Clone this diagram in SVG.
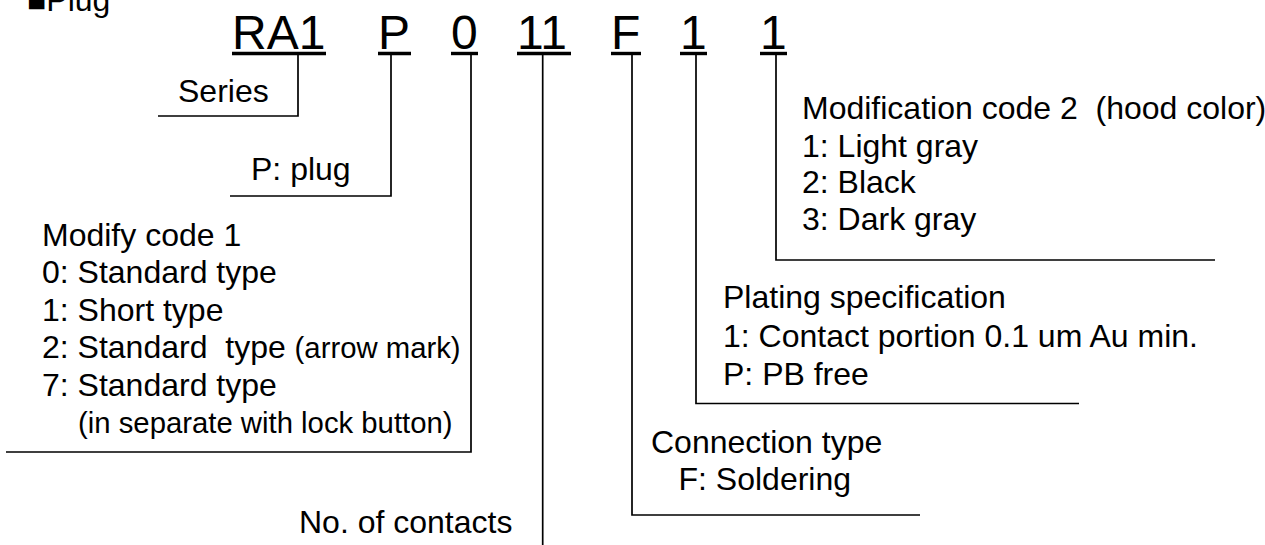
<svg xmlns="http://www.w3.org/2000/svg" width="1265" height="545" viewBox="0 0 1265 545" xml:space="preserve">
<style>
text{font-family:"Liberation Sans",Arial,sans-serif;fill:#000;font-size:32px;white-space:pre}
.code{font-size:48px}
.sm{font-size:29.3px}
.ul{stroke:#000;stroke-width:3.4;fill:none}
.ln{stroke:#000;stroke-width:1.7;fill:none}
</style>
<rect width="1265" height="545" fill="#fff"/>
<text x="27" y="11">■Plug</text>
<g id="code">
<text class="code" x="232" y="48.5">RA1</text>
<text class="code" x="378" y="48.5">P</text>
<text class="code" x="451" y="48.5">0</text>
<text class="code" x="517" y="48.5">11</text>
<text class="code" x="611" y="48.5">F</text>
<text class="code" x="680" y="48.5">1</text>
<text class="code" x="760" y="48.5">1</text>
<line class="ul" x1="232" y1="53.5" x2="326" y2="53.5"/>
<line class="ul" x1="378" y1="53.5" x2="411" y2="53.5"/>
<line class="ul" x1="451" y1="53.5" x2="478" y2="53.5"/>
<line class="ul" x1="517" y1="53.5" x2="571" y2="53.5"/>
<line class="ul" x1="611" y1="53.5" x2="641" y2="53.5"/>
<line class="ul" x1="680" y1="53.5" x2="707" y2="53.5"/>
<line class="ul" x1="760" y1="53.5" x2="787" y2="53.5"/>
</g>
<g id="connectors">
<polyline class="ln" points="298,53 298,116 158,116"/>
<polyline class="ln" points="391,53 391,196 230,196"/>
<polyline class="ln" points="471,53 471,452 6,452"/>
<line class="ln" x1="542.7" y1="53" x2="542.7" y2="545"/>
<polyline class="ln" points="632,53 632,515 920,515"/>
<polyline class="ln" points="696,53 696,403.5 1079,403.5"/>
<polyline class="ln" points="776,53 776,260 1215,260"/>
</g>
<g id="series"><text x="178" y="101.7">Series</text></g>
<g id="type"><text x="251" y="180">P: plug</text></g>
<g id="modify1">
<text x="42" y="245.7">Modify code 1</text>
<text x="42" y="283.3">0: Standard type</text>
<text x="42" y="320.8">1: Short type</text>
<text x="42" y="358.3">2: Standard  type <tspan class="sm">(arrow mark)</tspan></text>
<text x="42" y="395.8">7: Standard type</text>
<text class="sm" x="78" y="433.3">(in separate with lock button)</text>
</g>
<g id="contacts"><text x="299" y="533.3">No. of contacts</text></g>
<g id="connection">
<text x="651" y="453.3">Connection type</text>
<text x="678.5" y="490">F: Soldering</text>
</g>
<g id="plating">
<text x="723" y="308.3">Plating specification</text>
<text x="723" y="346.7">1: Contact portion 0.1 um Au min.</text>
<text x="723" y="385">P: PB free</text>
</g>
<g id="modify2">
<text x="802" y="119">Modification code 2  (hood color)</text>
<text x="802" y="156.7">1: Light gray</text>
<text x="802" y="193.3">2: Black</text>
<text x="802" y="230">3: Dark gray</text>
</g>
</svg>
